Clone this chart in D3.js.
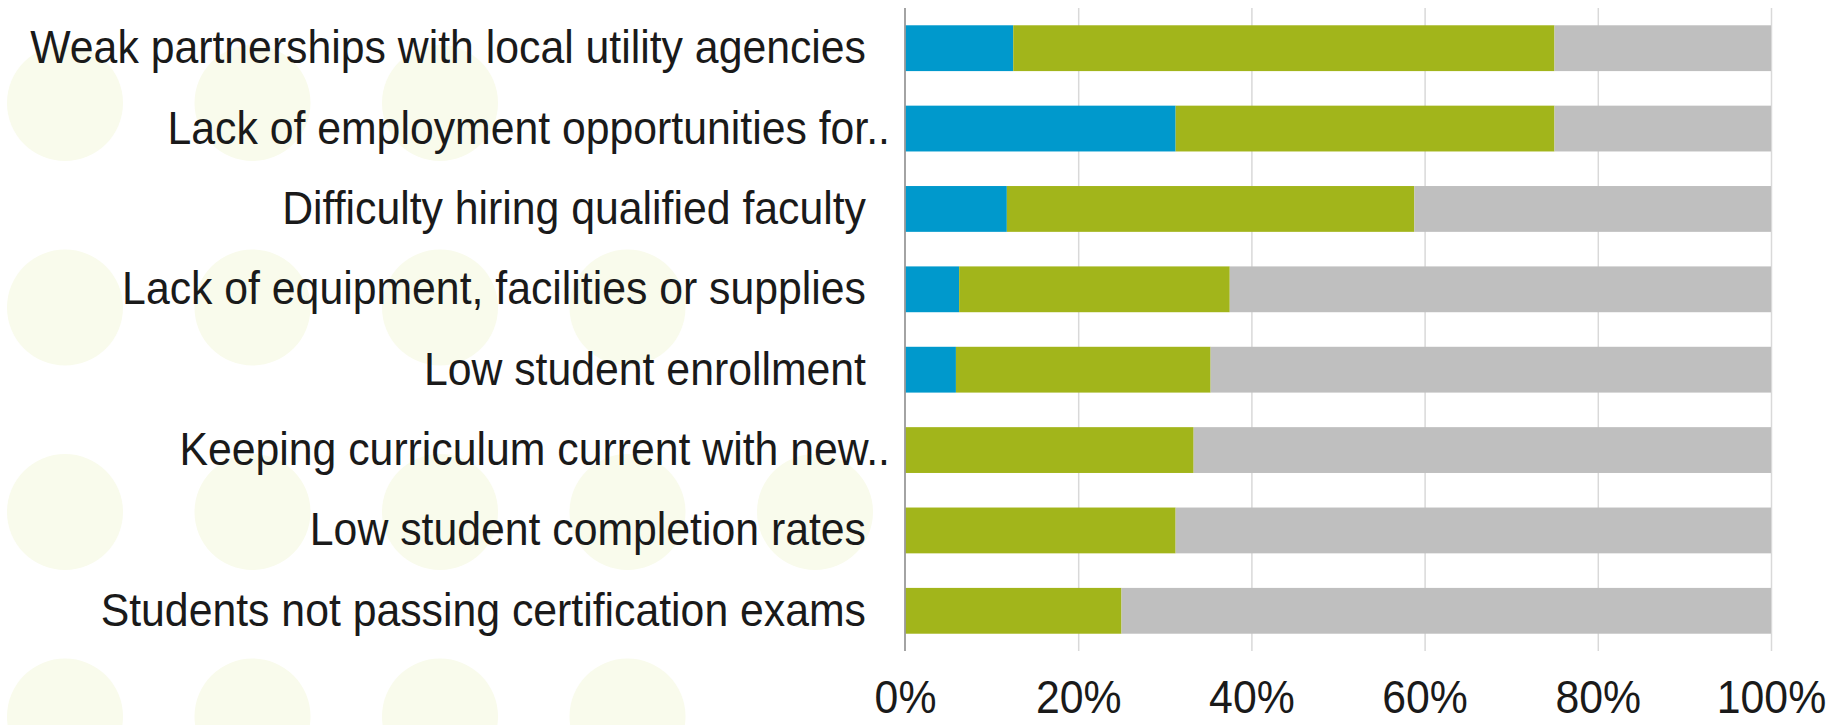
<!DOCTYPE html>
<meta charset="utf-8">
<head>
    <title>Program challenges</title>
    <script src="https://d3js.org/d3.v7.min.js"></script>
    <style>
        body { margin: 0; background: #fff; }
        svg { display: block; }
        .ylabels text { font-family: 'Liberation Sans', Arial, sans-serif; font-size: 47px; fill: #1a1a1a; }
        .xlabels text { font-family: 'Liberation Sans', Arial, sans-serif; font-size: 47px; fill: #1a1a1a; }
        .grid line { stroke: #d9d9d9; stroke-width: 1.5; }
        .grid path { stroke-width: 0; }
        line.axis0 { stroke: #9a9a9a; stroke-width: 1.8; }
        circle.dot { fill: #f9fbec; }
    </style>
</head>
<body>
<svg width="1843" height="725"></svg>
<script>
    const categories = [
        'Weak partnerships with local utility agencies',
        'Lack of employment opportunities for..',
        'Difficulty hiring qualified faculty',
        'Lack of equipment, facilities or supplies',
        'Low student enrollment',
        'Keeping curriculum current with new..',
        'Low student completion rates',
        'Students not passing certification exams'
    ];
    const seriesNames = ['major', 'minor', 'none'];
    const major = [12.5, 31.25, 11.76, 6.25, 5.88, 0, 0, 0];
    const minor = [62.5, 43.75, 47.06, 31.25, 29.41, 33.33, 31.25, 25];
    const none = [25, 25, 41.18, 62.5, 64.71, 66.67, 68.75, 75];
    const colors = ['#0099cc', '#a2b51b', '#bfbfbf'];
    const ticks = [0, 20, 40, 60, 80, 100];

    // decorative dot pattern behind the labels: dots per row
    const dotRows = [3, 4, 5, 4];

    const svg = d3.select('svg');
    const plotLeft = 905, plotRight = 1771, plotTop = 8, plotBottom = 651;
    const squeeze = 0.91; // the source font is a narrow one

    const deco = svg.append('g');
    dotRows.forEach((n, r) => {
        deco.selectAll(null)
            .data(d3.range(n))
            .enter()
            .append('circle')
            .attr('class', 'dot')
            .attr('cx', (c) => 65 + c * 187.5)
            .attr('cy', 103 + r * 204.5)
            .attr('r', 58);
    });

    const x = d3.scaleLinear().domain([0, 100]).range([plotLeft, plotRight]);
    const y = d3.scaleBand().domain(categories).range([plotTop, plotBottom])
        .paddingInner(0.43).paddingOuter(0.215);

    svg.append('g')
        .attr('class', 'grid')
        .attr('transform', `translate(0, ${plotBottom})`)
        .call(d3.axisBottom(x).tickValues(ticks.slice(1)).tickSize(-(plotBottom - plotTop)).tickFormat(''));

    const rows = categories.map((c, i) => ({cat: c, major: major[i], minor: minor[i], none: none[i]}));
    const stacked = d3.stack().keys(seriesNames)(rows);

    svg.append('g')
        .selectAll('g')
        .data(stacked)
        .enter()
        .append('g')
        .attr('fill', (d, i) => colors[i])
        .selectAll('rect')
        .data((d) => d)
        .enter()
        .append('rect')
        .attr('x', (d) => x(d[0]))
        .attr('y', (d) => y(d.data.cat))
        .attr('width', (d) => x(d[1]) - x(d[0]))
        .attr('height', y.bandwidth());

    svg.append('line')
        .attr('class', 'axis0')
        .attr('x1', x(0)).attr('x2', x(0))
        .attr('y1', plotTop).attr('y2', plotBottom);

    const yAxis = svg.append('g')
        .attr('class', 'ylabels')
        .attr('transform', `translate(${plotLeft}, 0)`)
        .call(d3.axisLeft(y).tickSize(0).tickPadding(15));
    yAxis.select('.domain').remove();
    yAxis.selectAll('text')
        .attr('x', (d) => (d.endsWith('..') ? -15 : -39) / squeeze)
        .attr('transform', `scale(${squeeze},1)`);

    const xAxis = svg.append('g')
        .attr('class', 'xlabels')
        .attr('transform', `translate(0, ${plotBottom})`)
        .call(d3.axisBottom(x).tickValues(ticks).tickSize(0).tickPadding(29)
            .tickFormat((d) => d + '%'));
    xAxis.select('.domain').remove();
    xAxis.selectAll('text').attr('transform', `scale(${squeeze},1)`)
        .attr('x', 0);
</script>
</body>
